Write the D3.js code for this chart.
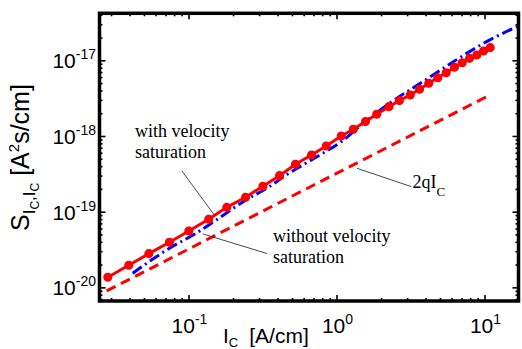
<!DOCTYPE html>
<html><head><meta charset="utf-8">
<script src="https://cdn.jsdelivr.net/npm/d3@7"></script>
<style>html,body{margin:0;padding:0;background:#fff;} svg{display:block}</style>
</head><body><svg id="c" width="522" height="349"></svg>
<script>
// ---- data ----
const markerX = [0.0285,0.0395,0.054,0.0744,0.1005,0.137,0.1815,0.243,0.318,0.412,0.528,0.678,0.852,1.076,1.30,1.57,1.87,2.26,2.66,3.15,3.64,4.2,4.83,5.51,6.27,7.07,7.92,8.87,9.85,10.93];
const markerY = [1.36e-20,1.96e-20,2.79e-20,3.94e-20,5.56e-20,7.94e-20,1.14e-19,1.55e-19,2.17e-19,2.99e-19,4.23e-19,5.61e-19,7.38e-19,1.0e-18,1.23e-18,1.55e-18,1.94e-18,2.44e-18,2.93e-18,3.48e-18,4.14e-18,4.97e-18,5.89e-18,6.86e-18,8.09e-18,9.29e-18,1.06e-17,1.175e-17,1.33e-17,1.47e-17];
const noSatX = [0.042,0.0744,0.1127,0.154,0.245,0.352,0.457,0.592,0.808,1.076,1.5,2.28,3.83,6.44,10.8,16.7];
const noSatY = [1.535e-20,3.29e-20,5.19e-20,7.77e-20,1.43e-19,2.14e-19,3.05e-19,4.14e-19,5.91e-19,8.41e-19,1.45e-18,2.70e-18,5.21e-18,1.01e-17,1.85e-17,2.80e-17];
const shotX = [0.028, 10.3];
const shotY = [8.96e-21, 3.3e-18];
const xMajor = [0.1, 1, 10];
const xMajorExp = ["-1", "0", "1"];
const yMajor = [1e-20, 1e-19, 1e-18, 1e-17];
const yMajorExp = ["-20", "-19", "-18", "-17"];

const svg = d3.select("#c");
const L = 99.5, R = 518.5, T = 13.3, B = 301;
const x = d3.scaleLog().domain([0.02505, 16.97]).range([L, R]);
const y = d3.scaleLog().domain([6.6e-21, 4.18e-17]).range([B, T]);

svg.append("defs").append("clipPath").attr("id", "clip")
  .append("rect").attr("x", L).attr("y", T).attr("width", R - L).attr("height", B - T);

// ticks
const xMinor = x.ticks().filter(v => !xMajor.some(m => Math.abs(m - v) / m < 1e-6));
const yMinor = y.ticks().filter(v => !yMajor.some(m => Math.abs(m - v) / m < 1e-6));
function addAxis(gen, tr) {
  const g = svg.append("g").attr("transform", tr).call(gen);
  g.select(".domain").remove();
  g.selectAll("line").attr("stroke", "#000").attr("stroke-width", 1.6);
}
[[xMinor, 3], [xMajor, 6]].forEach(([vals, len]) => {
  addAxis(d3.axisBottom(x).tickValues(vals).tickSize(-len).tickFormat(""), `translate(0,${B})`);
  addAxis(d3.axisTop(x).tickValues(vals).tickSize(-len).tickFormat(""), `translate(0,${T})`);
});
[[yMinor, 3], [yMajor, 6]].forEach(([vals, len]) => {
  addAxis(d3.axisLeft(y).tickValues(vals).tickSize(-len).tickFormat(""), `translate(${L},0)`);
  addAxis(d3.axisRight(y).tickValues(vals).tickSize(-len).tickFormat(""), `translate(${R},0)`);
});

// data lines
const plot = svg.append("g").attr("clip-path", "url(#clip)");
const line = d3.line().x(d => x(d[0])).y(d => y(d[1]));
plot.append("path").datum(d3.zip(shotX, shotY)).attr("d", line)
  .attr("fill", "none").attr("stroke", "#ff0000").attr("stroke-width", 3).attr("stroke-dasharray", "10,6");
plot.append("path").datum(d3.zip(noSatX, noSatY)).attr("d", d3.line().x(d => x(d[0])).y(d => y(d[1])).curve(d3.curveMonotoneX))
  .attr("fill", "none").attr("stroke", "#0000ff").attr("stroke-width", 3).attr("stroke-dasharray", "11,4,2,4");
plot.append("path").datum(d3.zip(markerX, markerY)).attr("d", line)
  .attr("fill", "none").attr("stroke", "#ff0000").attr("stroke-width", 3);
plot.selectAll("circle").data(d3.zip(markerX, markerY)).join("circle")
  .attr("cx", d => x(d[0])).attr("cy", d => y(d[1])).attr("r", 3.8)
  .attr("fill", "#ff0000").attr("stroke", "#ff0000").attr("stroke-width", 1.5);

// box
svg.append("rect").attr("x", L).attr("y", T).attr("width", R - L).attr("height", B - T)
  .attr("fill", "none").attr("stroke", "#000").attr("stroke-width", 3.5);

// tick labels
const sans = "Liberation Sans, Arial, sans-serif";
const serif = "Liberation Serif, Times New Roman, serif";
xMajor.forEach((v, i) => {
  const t = svg.append("text").attr("x", x(v) + 1).attr("y", 333).attr("text-anchor", "middle")
    .attr("font-family", sans).attr("font-size", 21).attr("fill", "#000");
  t.append("tspan").text("10");
  t.append("tspan").attr("dy", -9).attr("font-size", 14).text(xMajorExp[i]);
});
yMajor.forEach((v, i) => {
  const t = svg.append("text").attr("x", 96).attr("y", y(v) + 8).attr("text-anchor", "end")
    .attr("font-family", sans).attr("font-size", 21).attr("fill", "#000");
  t.append("tspan").text("10");
  t.append("tspan").attr("dy", -9).attr("font-size", 14).text(yMajorExp[i]);
});

// axis labels
const xl = svg.append("text").attr("x", 223).attr("y", 343).attr("font-family", sans).attr("font-size", 21);
xl.append("tspan").text("I");
xl.append("tspan").attr("dy", 4).attr("font-size", 13).text("C");
xl.append("tspan").attr("dy", -4).attr("dx", 11).text("[A/cm]");

const yl = svg.append("text").attr("transform", "translate(29,231) rotate(-90)")
  .attr("font-family", sans).attr("font-size", 25);
yl.append("tspan").text("S");
yl.append("tspan").attr("dy", 6).attr("font-size", 17).text("I");
yl.append("tspan").attr("dy", 4).attr("font-size", 12).text("C");
yl.append("tspan").attr("dy", -4).attr("font-size", 17).text(",I");
yl.append("tspan").attr("dy", 4).attr("font-size", 12).text("C");
yl.append("tspan").attr("dy", -10).text(" [A");
yl.append("tspan").attr("dy", -10).attr("font-size", 15).text("2");
yl.append("tspan").attr("dy", 10).text("s/cm]");

// annotations
function ann(lines, xx, yy, dyLine) {
  const t = svg.append("text").attr("font-family", serif).attr("font-size", 18).attr("fill", "#000");
  lines.forEach((s, i) => t.append("tspan").attr("x", xx).attr("y", yy + i * dyLine).attr("font-family", serif).text(s));
}
ann(["with velocity", "saturation"], 135, 136.7, 21.6);
ann(["without velocity", "saturation"], 273, 241.7, 21.6);
const q = svg.append("text").attr("x", 412.5).attr("y", 188.3).attr("font-family", serif).attr("font-size", 18);
q.append("tspan").text("2qI");
q.append("tspan").attr("dy", 8).attr("font-size", 13).text("C");

const leaders = [[182, 171, 215, 216], [203, 234, 267, 253.5], [357, 168.3, 411.5, 186.7]];
svg.selectAll("line.lead").data(leaders).join("line").attr("class", "lead")
  .attr("x1", d => d[0]).attr("y1", d => d[1]).attr("x2", d => d[2]).attr("y2", d => d[3])
  .attr("stroke", "#333").attr("stroke-width", 0.9);
</script></body></html>
